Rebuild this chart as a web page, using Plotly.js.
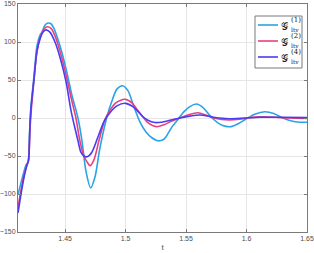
<!DOCTYPE html>
<html>
<head>
<meta charset="utf-8">
<script src="https://cdn.plot.ly/plotly-3.0.1.min.js"></script>
<style>html,body{margin:0;padding:0;background:#fff;}#plot{width:314px;height:253px;}</style>
</head>
<body>
<div id="plot"></div>
<script>
// Series labels: symbol, superscript, subscript
const seriesSymbol = '𝒢';
const seriesSup = ['(1)', '(2)', '(4)'];
const seriesSub = 'ltv';

// Series 1 (cyan)
const t1 = [1.4110,1.4135,1.4160,1.4176,1.4193,1.4205,1.4217,1.4242,1.4267,1.4292,1.4308,1.4333,1.4358,1.4383,1.4407,1.4457,1.4507,1.4556,1.4606,1.4639,1.4672,1.4711,1.4746,1.4787,1.4843,1.4886,1.4928,1.4975,1.5019,1.5068,1.5118,1.5167,1.5217,1.5258,1.5283,1.5316,1.5333,1.5382,1.5432,1.5481,1.5531,1.5586,1.5638,1.5688,1.5729,1.5779,1.5828,1.5875,1.5927,1.5999,1.6068,1.6150,1.6225,1.6299,1.6373,1.6439,1.6500];
const v1 = [-101,-85,-70,-62,-58,-20,15,55,95,109,113,122,125,124,118,95,65,30,0,-30,-70,-92,-78,-40,0,22,38,42.5,36,15,-5,-18,-26,-29.5,-30,-28,-25,-12,-2,8,15,18.4,14,5,-2,-8,-11,-11.4,-8,-1,5,8.3,6,0,-4,-5.5,-5.5];

// Series 2 (pink)
const t2 = [1.4110,1.4135,1.4160,1.4184,1.4197,1.4209,1.4222,1.4242,1.4267,1.4292,1.4325,1.4352,1.4383,1.4416,1.4457,1.4507,1.4556,1.4589,1.4622,1.4655,1.4682,1.4705,1.4738,1.4779,1.4829,1.4870,1.4919,1.4994,1.5052,1.5101,1.5142,1.5184,1.5256,1.5316,1.5382,1.5432,1.5514,1.5597,1.5663,1.5729,1.5795,1.5861,1.5944,1.6026,1.6125,1.6233,1.6357,1.6500];
const v2 = [-118,-95,-75,-62,-55,-15,15,50,88,105,117,120,118,108,88,57,22,0,-30,-50,-58,-62.7,-55,-30,-2,10,20,24.6,20,10,1.7,-6,-11.4,-9,-4,-1,4,7,4,0,-2,-2.6,-1.5,0.5,1.5,1,0,-0.5];

// Series 3 (blue)
const t3 = [1.4110,1.4135,1.4160,1.4184,1.4197,1.4209,1.4217,1.4242,1.4267,1.4292,1.4317,1.4341,1.4374,1.4416,1.4457,1.4507,1.4548,1.4573,1.4606,1.4630,1.4655,1.4682,1.4721,1.4771,1.4820,1.4870,1.4928,1.5000,1.5060,1.5118,1.5142,1.5184,1.5242,1.5299,1.5366,1.5448,1.5531,1.5613,1.5696,1.5779,1.5861,1.5985,1.6109,1.6274,1.6500];
const v3 = [-125,-100,-78,-62,-56,-10,12,50,88,104,113,116,113,100,80,48,10,-8,-30,-45,-50,-51,-45,-25,-5,7,16,19.3,15,6,2,-3,-6,-5.5,-3,0,2.5,4,2,0,-1,0,1,1,0.5];

const xTicks = [1.45, 1.5, 1.55, 1.6, 1.65];
const xTickText = ['1.45', '1.5', '1.55', '1.6', '1.65'];
const yTicks = [-150, -100, -50, 0, 50, 100, 150];

const colors = ['#2aa3e6', '#e8407f', '#4a3cf2'];

const traces = [[t1, v1], [t2, v2], [t3, v3]].map((d, i) => ({
  x: d[0], y: d[1], type: 'scatter', mode: 'lines',
  name: seriesSymbol + '<sub>' + seriesSub + '</sub><sup>' + seriesSup[i] + '</sup>',
  line: {color: colors[i], width: 1.6, shape: 'spline', smoothing: 0.8},
  showlegend: false
}));

// Plot area geometry (pixels) used to place the hand-drawn legend
const W = 314, H = 253, ML = 18, MR = 7, MT = 4, MB = 21;
const PW = W - ML - MR, PH = H - MT - MB;
const px = x => (x - ML) / PW;
const py = y => (H - MB - y) / PH;

const shapes = [{
  type: 'rect', xref: 'paper', yref: 'paper',
  x0: px(255), x1: px(302), y0: py(68), y1: py(16),
  line: {color: '#7a7a7a', width: 1}, fillcolor: '#ffffff', layer: 'above'
}];
const annotations = [];
const serif = 'DejaVu Serif, serif';
for (let i = 0; i < 3; i++) {
  const ry = 25 + 16 * i;
  shapes.push({
    type: 'line', xref: 'paper', yref: 'paper',
    x0: px(258), x1: px(278), y0: py(ry), y1: py(ry),
    line: {color: colors[i], width: 1.6}, layer: 'above'
  });
  annotations.push({
    xref: 'paper', yref: 'paper', x: px(280), y: py(ry + 1.5),
    xanchor: 'left', yanchor: 'middle', showarrow: false, borderpad: 0,
    text: seriesSymbol, font: {family: serif, size: 10, color: '#222'}
  });
  annotations.push({
    xref: 'paper', yref: 'paper', x: px(290), y: py(ry - 5.5),
    xanchor: 'left', yanchor: 'middle', showarrow: false, borderpad: 0,
    text: seriesSup[i], font: {family: serif, size: 7, color: '#222'}
  });
  annotations.push({
    xref: 'paper', yref: 'paper', x: px(290), y: py(ry + 4),
    xanchor: 'left', yanchor: 'middle', showarrow: false, borderpad: 0,
    text: seriesSub, font: {family: serif, size: 6, color: '#222'}
  });
}

const axisCommon = {
  showline: true, linecolor: '#7a7a7a', linewidth: 1, mirror: 'ticks',
  ticks: 'inside', ticklen: 3, tickcolor: '#7a7a7a',
  showgrid: true, gridcolor: '#e6e6e6', gridwidth: 1, zeroline: false,
  automargin: false,
  tickfont: {family: 'Liberation Sans, Arial, sans-serif', size: 7, color: '#4d4d4d'}
};

const layout = {
  width: W, height: H,
  margin: {l: ML, r: MR, t: MT, b: MB},
  paper_bgcolor: '#ffffff', plot_bgcolor: '#ffffff',
  showlegend: false,
  xaxis: Object.assign({}, axisCommon, {
    range: [1.411, 1.65], tickvals: xTicks, ticktext: xTickText,
    title: {text: 't', font: {family: 'Liberation Sans, Arial, sans-serif', size: 8, color: '#4d4d4d'}, standoff: 2}
  }),
  yaxis: Object.assign({}, axisCommon, {
    range: [-150, 150], tickvals: yTicks
  }),
  shapes: shapes,
  annotations: annotations
};

Plotly.newPlot('plot', traces, layout, {staticPlot: true, displayModeBar: false});
</script>
</body>
</html>
